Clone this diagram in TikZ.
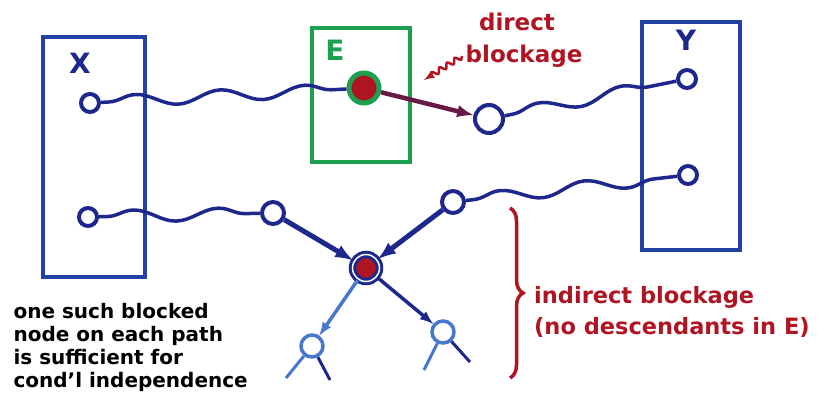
\documentclass[tikz,border=0pt]{standalone}
\usepackage{fontspec}
\setmainfont{DejaVu Sans}
\usetikzlibrary{arrows,decorations.pathmorphing,decorations.pathreplacing}
\definecolor{navy}{RGB}{30,40,140}
\definecolor{boxblue}{RGB}{35,65,165}
\definecolor{egreen}{RGB}{30,160,80}
\definecolor{blockred}{RGB}{175,20,35}
\definecolor{descblue}{RGB}{70,120,205}
\definecolor{plum}{RGB}{105,25,70}
\begin{document}
\begin{tikzpicture}
    [
    x=1pt,y=-1pt,
    var/.style={circle,draw=navy,line width=4pt,inner sep=0pt,minimum size=18pt},
    evid/.style={circle,draw=egreen,fill=blockred,line width=5pt,inner sep=0pt,minimum size=30pt},
    collider/.style={circle,draw=navy,double=white,double distance=1.5pt,line width=3pt,fill=blockred,inner sep=0pt,minimum size=27pt},
    desc/.style={circle,draw=descblue,line width=3.5pt,inner sep=0pt,minimum size=22pt},
    setbox/.style={draw=boxblue,line width=4pt,inner sep=0pt},
    setlabel/.style={font=\bfseries\fontsize{28}{28}\selectfont},
    wavy/.style={navy,line width=3.5pt,decorate,decoration={snake,segment length=85pt,amplitude=6pt,pre length=8pt,post length=8pt}},
    redtext/.style={blockred,font=\bfseries\fontsize{23}{30}\selectfont},
    ]
    \useasboundingbox (0,0) rectangle (827,405);
    % sets X, E, Y
    \node (Xbox) at (94,157) [setbox,minimum width=102pt,minimum height=240pt] {};
    \node (Ebox) at (361,95) [setbox,draw=egreen,minimum width=98pt,minimum height=134pt] {};
    \node (Ybox) at (691,136) [setbox,minimum width=98pt,minimum height=228pt] {};
    \node (Xlab) at (80,63) [setlabel,navy] {X};
    \node (Elab) at (335,50) [setlabel,egreen] {E};
    \node (Ylab) at (686,40) [setlabel,navy] {Y};
    % path nodes
    \node (X1) at (90,103) [var] {};
    \node (X2) at (88,217) [var] {};
    \node (E1) at (364,88) [evid] {};
    \node (B1) at (489,119) [var,minimum size=28pt] {};
    \node (Y1) at (687,79) [var] {};
    \node (Y2) at (688,175) [var] {};
    \node (A1) at (273,213) [var,minimum size=22pt] {};
    \node (A2) at (453,202) [var,minimum size=22pt] {};
    \node (C) at (366,268) [collider] {};
    \node (D1) at (312,346) [desc] {};
    \node (D2) at (443,332) [desc] {};
    \coordinate (d1l) at (286,378);
    \coordinate (d1r) at (330,380);
    \coordinate (d2l) at (424,370);
    \coordinate (d2r) at (470,362);
    \draw [wavy] (X1) -- (E1);
    \draw [wavy] (B1) -- (Y1);
    \draw [wavy] (X2) -- (A1);
    \draw [wavy] (A2) -- (Y2);
    \draw [-latex,plum,line width=4.5pt] (E1) to (B1);
    \draw [-latex,line width=5pt,draw=navy] (A1) to (C);
    \draw [-latex,line width=5pt,draw=navy] (A2) to (C);
    \draw [-latex,line width=3.5pt,descblue] (C) to (D1);
    \draw [-latex,line width=3.5pt,navy] (C) to (D2);
    \draw [descblue,line width=3pt] (D1) -- (d1l);
    \draw [navy,line width=3pt] (D1) -- (d1r);
    \draw [descblue,line width=3pt] (D2) -- (d2l);
    \draw [navy,line width=3pt] (D2) -- (d2r);
    % labels
    \node (dtop) at (517,22) [redtext] {direct};
    \node (dbot) at (524,56) [redtext] {blockage};
    \coordinate (dtip) at (424,80);
    \draw [-latex,blockred,line width=2.5pt,decorate,decoration={snake,segment length=9pt,amplitude=2.5pt,post length=7pt}] (dbot.west) -- (dtip);
    \coordinate (bt) at (510,208);
    \coordinate (bb) at (510,378);
    \draw [blockred,line width=3.5pt,decorate,decoration={brace,amplitude=13pt}] (bt) -- (bb);
    \node (indirect) at (534,312) [redtext,font=\bfseries\fontsize{22.5}{31}\selectfont,anchor=west,align=left,inner sep=0pt] {indirect blockage\\(no descendants in E)};
    \node (note) at (10,347) [anchor=west,align=left,font=\bfseries\fontsize{20}{23}\selectfont] {one such blocked\\node on each path\\is sufficient for\\cond'l independence};
  \end{tikzpicture}
\end{document}
